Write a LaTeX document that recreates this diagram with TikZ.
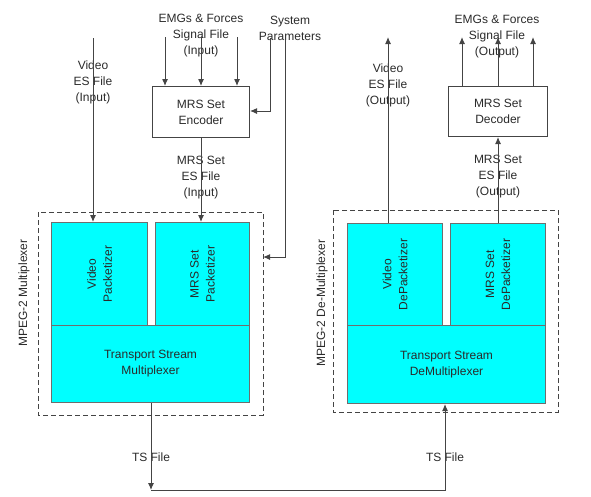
\documentclass[tikz,border=0pt]{standalone}
\usepackage{fontspec}
\setmainfont{Liberation Sans}
\usetikzlibrary{arrows.meta}
\definecolor{ln}{HTML}{444444}
\definecolor{bx}{HTML}{6E6E6E}
\definecolor{cy}{HTML}{00FFFF}
\definecolor{tx}{HTML}{2A2A2A}
\tikzset{
  lbl/.style={text=tx,font=\fontsize{12}{16}\selectfont,align=center,inner sep=0pt},
  cbox/.style={draw=bx,line width=1pt,fill=cy,inner sep=0pt},
  wbox/.style={draw=ln,line width=1pt,fill=white,inner sep=0pt,text=tx,font=\fontsize{12}{16}\selectfont,align=center},
  grp/.style={draw=ln,dashed,dash pattern=on 5pt off 3pt,line width=0.9pt},
  conn/.style={draw=ln,line width=1pt},
  arr/.style={conn,-{Latex[length=7pt,width=6pt]}}
}
\begin{document}
\begin{tikzpicture}[x=1pt,y=-1pt]
\useasboundingbox (0,0) rectangle (591,496);
% dashed groups
\draw[grp] (38,212) rectangle (263,415);
\draw[grp] (333,210) rectangle (558,412);
% left cyan boxes
\node[cbox,minimum width=96pt,minimum height=103pt,anchor=north west] (vp) at (51,222) {};
\node[lbl,rotate=90] at (vp.center) {Video\\Packetizer};
\node[cbox,minimum width=94pt,minimum height=103pt,anchor=north west] (mp) at (155,222) {};
\node[lbl,rotate=90] at (mp.center) {MRS Set\\Packetizer};
\node[cbox,minimum width=198pt,minimum height=77pt,anchor=north west] (tsm) at (51,325) {};
\node[lbl] at (tsm.center) {Transport Stream\\Multiplexer};
% right cyan boxes
\node[cbox,minimum width=95pt,minimum height=102pt,anchor=north west] (vd) at (347,223) {};
\node[lbl,rotate=90] at (vd.center) {Video\\DePacketizer};
\node[cbox,minimum width=95pt,minimum height=102pt,anchor=north west] (md) at (450,223) {};
\node[lbl,rotate=90] at (md.center) {MRS Set\\DePacketizer};
\node[cbox,minimum width=198pt,minimum height=78pt,anchor=north west] (tsd) at (347,325) {};
\node[lbl] at (tsd.center) {Transport Stream\\DeMultiplexer};
% group labels
\node[lbl,rotate=90] (gl) at (24,293) {MPEG-2 Multiplexer};
\node[lbl,rotate=90] (gr) at (322,303) {MPEG-2 De-Multiplexer};
% encoder / decoder
\node[wbox,minimum width=97pt,minimum height=51pt,anchor=north west] (enc) at (152,86) {MRS Set\\Encoder};
\node[wbox,minimum width=99pt,minimum height=50pt,anchor=north west] (dec) at (448,86) {MRS Set\\Decoder};
% coordinates
\coordinate (vin) at (93,38);
\coordinate (e1) at (165,37);
\coordinate (e2) at (201,37);
\coordinate (e3) at (237,37);
\coordinate (s1) at (270,38);
\coordinate (s2) at (285,40);
\coordinate (vout) at (388,37);
\coordinate (d1) at (462,37);
\coordinate (d2) at (498,37);
\coordinate (d3) at (533,37);
\coordinate (tsb) at (151,490);
% labels top
\node[lbl] (lemg) at (201,36) {EMGs \& Forces\\Signal File\\(Input)};
\node[lbl] (lsys) at (290,28) {System\\Parameters};
\node[lbl] (lvin) at (93,82) {Video\\ES File\\(Input)};
\node[lbl] (lmin) at (201,178) {MRS Set\\ES File\\(Input)};
\node[lbl] (lemgo) at (497,37) {EMGs \& Forces\\Signal File\\(Output)};
\node[lbl] (lvout) at (388,85) {Video\\ES File\\(Output)};
\node[lbl] (lmout) at (498,177) {MRS Set\\ES File\\(Output)};
\node[lbl] (lts1) at (151,457) {TS File};
\node[lbl] (lts2) at (445,457) {TS File};
% connectors
\draw[arr] (vin) -- (vp.north -| vin);
\draw[arr] (e1) -- (enc.north -| e1);
\draw[arr] (e2) -- (enc.north -| e2);
\draw[arr] (e3) -- (enc.north -| e3);
\draw[arr] (s1) |- (enc.east |- 0,111);
\draw[arr] (s2) |- (263,257);
\draw[arr] (enc.south -| e2) -- (mp.north -| e2);
\draw[arr] (vd.north -| vout) -- (vout);
\draw[arr] (dec.north -| d1) -- (d1);
\draw[arr] (dec.north -| d2) -- (d2);
\draw[arr] (dec.north -| d3) -- (d3);
\draw[arr] (md.north -| d2) -- (dec.south -| d2);
\draw[arr] (tsm.south -| tsb) -- (tsb);
\draw[arr] (tsb) -| (tsd.south -| 445,0);
\end{tikzpicture}
\end{document}
